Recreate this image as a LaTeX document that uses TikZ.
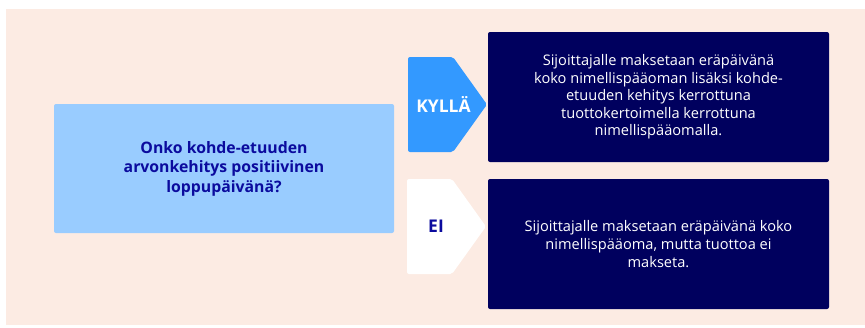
\documentclass[tikz,border=0pt]{standalone}
\usepackage{fontspec}
\setmainfont{Open Sans}
\definecolor{peach}{HTML}{FCEBE3}
\definecolor{lightblue}{HTML}{99CCFF}
\definecolor{arrowblue}{HTML}{3399FF}
\definecolor{navybox}{HTML}{00005E}
\definecolor{navytext}{HTML}{0B0B9E}
\begin{document}
\begin{tikzpicture}[x=1pt,y=-1pt,
  box/.style={rounded corners=2pt, inner sep=0pt, draw=none},
  qtext/.style={align=center, font=\fontsize{15.8}{19.5}\selectfont\bfseries, text=navytext},
  atext/.style={align=center, font=\fontsize{14.6}{17.6}\selectfont, text=white},
  ans/.style={box, fill=navybox},
  tag/.style={font=\fontsize{17.5}{20}\selectfont\bfseries}]
\useasboundingbox (0,0) rectangle (865,327);
\fill[white] (0,0) rectangle (865,327);
\fill[peach] (6,9) rectangle (865,325);
% question box
\path[box, fill=lightblue] (54,104) rectangle (394,233);
\node[qtext] (q) at (224,168.5) {Onko kohde-etuuden\\arvonkehitys positiivinen\\loppupäivänä?};
% yes arrow
\fill[arrowblue, rounded corners=2pt] (408,57) -- (453,57) -- (487,104.5) -- (453,152) -- (408,152) -- cycle;
\node[tag, text=white] (yes) at (443.5,104.5) {KYLLÄ};
% no arrow
\fill[white, rounded corners=2pt] (407,179) -- (452,179) -- (486,226.5) -- (452,274) -- (407,274) -- cycle;
\node[tag, text=navytext] (no) at (436,226.5) {EI};
% answer boxes
\path[ans] (488,32) rectangle (829,162);
\node[atext] (ya) at (658.5,97) {Sijoittajalle maksetaan eräpäivänä\\koko nimellispääoman lisäksi kohde-\\etuuden kehitys kerrottuna\\tuottokertoimella kerrottuna\\nimellispääomalla.};
\path[ans] (488,179) rectangle (829,309);
\node[atext] (na) at (658.5,244) {Sijoittajalle maksetaan eräpäivänä koko\\nimellispääoma, mutta tuottoa ei\\makseta.};
\end{tikzpicture}
\end{document}
